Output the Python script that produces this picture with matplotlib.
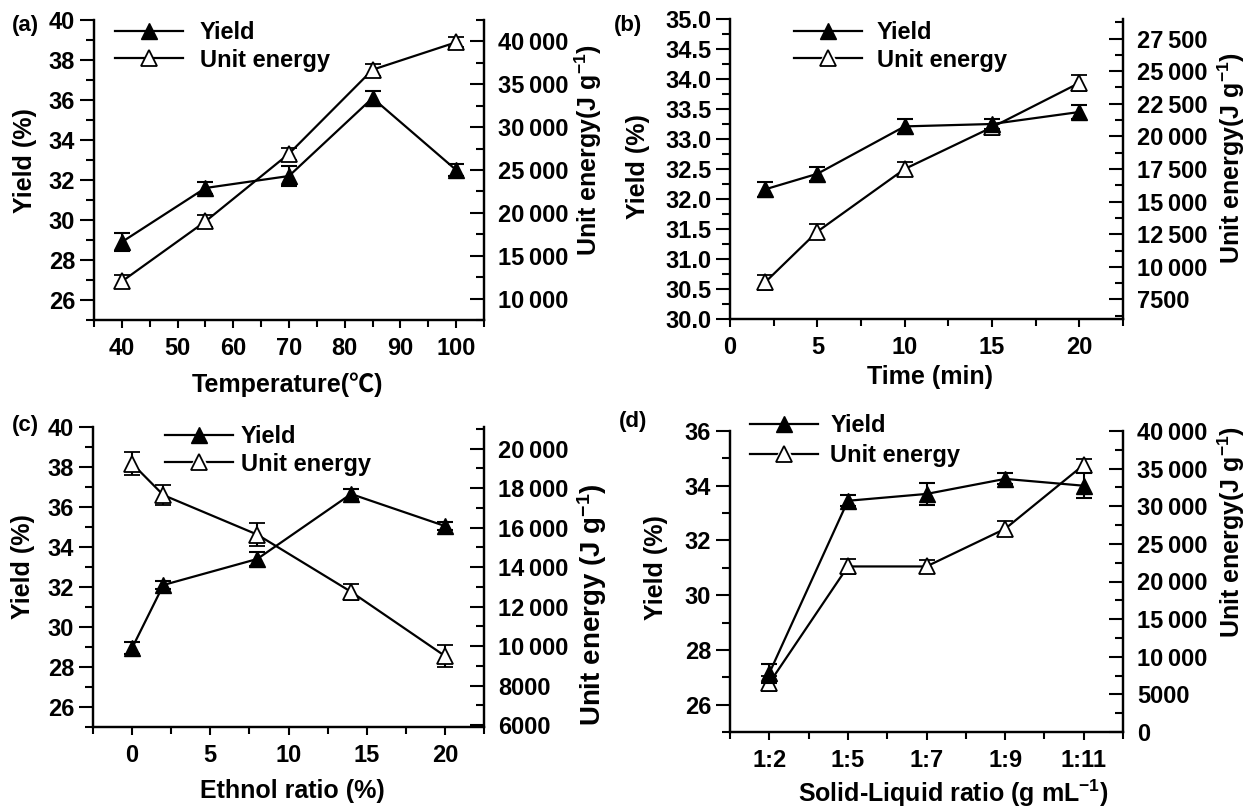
import matplotlib
matplotlib.use("Agg")
import matplotlib.pyplot as plt
from matplotlib.ticker import MultipleLocator, FixedLocator, FuncFormatter, FormatStrFormatter
from matplotlib.lines import Line2D
from matplotlib.legend_handler import HandlerTuple

# ---------------- data ----------------
temp_x = [40, 55, 70, 85, 100]
temp_yield = [28.9, 31.6, 32.2, 36.1, 32.5]
temp_yield_err = [0.45, 0.3, 0.5, 0.35, 0.3]
temp_energy = [12000, 19000, 26900, 36700, 39900]
temp_energy_err = [800, 700, 700, 700, 600]

time_x = [2, 5, 10, 15, 20]
time_yield = [32.16, 32.42, 33.21, 33.25, 33.45]
time_yield_err = [0.12, 0.12, 0.12, 0.08, 0.12]
time_energy = [8800, 12700, 17500, 20700, 24100]
time_energy_err = [600, 600, 500, 600, 600]

eth_x = [0, 2, 8, 14, 20]
eth_yield = [28.95, 32.1, 33.4, 36.65, 35.05]
eth_yield_err = [0.3, 0.2, 0.35, 0.25, 0.2]
eth_energy = [19250, 17650, 15650, 12750, 9500]
eth_energy_err = [600, 500, 600, 400, 550]

sl_cats = ['1:2', '1:5', '1:7', '1:9', '1:11']
sl_yield = [27.15, 33.45, 33.7, 34.25, 34.0]
sl_yield_err = [0.35, 0.2, 0.4, 0.2, 0.45]
sl_energy = [6500, 22000, 22000, 27000, 35500]
sl_energy_err = [1000, 1000, 900, 1000, 800]

# ---------------- style ----------------
plt.rcParams['font.family'] = ['Liberation Sans', 'Noto Sans CJK SC', 'DejaVu Sans']
plt.rcParams['font.weight'] = 'bold'
plt.rcParams['axes.labelweight'] = 'bold'
plt.rcParams['mathtext.fontset'] = 'custom'
plt.rcParams['mathtext.rm'] = 'Liberation Sans:bold'
plt.rcParams['mathtext.bf'] = 'Liberation Sans:bold'
plt.rcParams['mathtext.it'] = 'Liberation Sans:bold'
plt.rcParams['mathtext.default'] = 'rm'

TFS = 17     # tick labels
LFS = 18     # axis labels
GFS = 17     # legend
W, H = 1250, 809
fig = plt.figure(figsize=(W / 100, H / 100), dpi=100)


def rect(l, t, r, b):
    return [l / W, 1 - b / H, (r - l) / W, (b - t) / H]


def energy_fmt(v, pos):
    v = int(round(v))
    if v >= 10000:
        return f"{v:,}".replace(',', '\u2009')
    return str(v)


def style_axes(ax, ax2):
    for sp in ['left', 'bottom', 'right']:
        ax.spines[sp].set_linewidth(1.6)
        ax2.spines[sp].set_linewidth(1.6)
    ax.spines['top'].set_visible(False)
    ax2.spines['top'].set_visible(False)
    ax.tick_params(axis='y', which='major', direction='out', length=10, width=1.5, labelsize=TFS)
    ax.tick_params(axis='y', which='minor', direction='out', length=5.5, width=1.5)
    ax.tick_params(axis='x', which='major', direction='out', length=6, width=1.5, labelsize=TFS, pad=6)
    ax.tick_params(axis='x', which='minor', direction='out', length=5, width=1.5)
    ax2.tick_params(axis='y', which='major', direction='in', length=10, width=1.5, labelsize=TFS, pad=10)
    ax2.tick_params(axis='y', which='minor', direction='in', length=5.5, width=1.5)
    ax2.yaxis.set_major_formatter(FuncFormatter(energy_fmt))


def set_labels(xl, yl, y2l, xc, yc, y2c, y2fs=LFS):
    # centres given in pixels
    fig.text(xc[0] / W, 1 - xc[1] / H, xl, ha='center', va='center', fontsize=LFS, fontweight='bold')
    fig.text(yc[0] / W, 1 - yc[1] / H, yl, ha='center', va='center', rotation=90, fontsize=LFS, fontweight='bold')
    fig.text(y2c[0] / W, 1 - y2c[1] / H, y2l, ha='center', va='center', rotation=90, fontsize=y2fs, fontweight='bold')


def plot_pair(ax, ax2, x, y, ye, e, ee):
    ax2.errorbar(x, e, yerr=ee, fmt='-^', color='black', mfc='white', mec='black', mew=1.3,
                 ms=11, lw=1.6, elinewidth=1.5, capsize=6, capthick=1.5, zorder=3)
    ax.errorbar(x, y, yerr=ye, fmt='-^', color='black', mfc='black', mec='black',
                ms=11, lw=1.6, elinewidth=1.5, capsize=6, capthick=1.5, zorder=3)
    ax.set_zorder(ax2.get_zorder() + 1)
    ax.patch.set_visible(False)


def legend(ax, pos, gapped, textpad, spacing):
    h1 = Line2D([], [], color='black', lw=1.6, marker='^', ms=11, mfc='black')
    if gapped:
        hl = Line2D([], [], color='black', lw=1.6)
        hw = Line2D([], [], ls='none', marker='^', ms=17, mfc='white', mec='white')
        hm = Line2D([], [], ls='none', marker='^', ms=11, mfc='white', mec='black', mew=1.3)
        h2 = (hl, hw, hm)
    else:
        h2 = Line2D([], [], color='black', lw=1.6, marker='^', ms=11, mfc='white', mec='black', mew=1.3)
    leg = ax.legend([h1, h2], ['Yield', 'Unit energy'], loc='upper left',
                    bbox_to_anchor=(pos[0] / W, 1 - pos[1] / H), bbox_transform=fig.transFigure,
                    frameon=False, fontsize=GFS, handlelength=2.9, handletextpad=textpad,
                    labelspacing=spacing, borderpad=0, borderaxespad=0,
                    handler_map={tuple: HandlerTuple(ndivide=1)})
    return leg


def panel_label(txt, cx, cy):
    fig.text(cx / W, 1 - cy / H, txt, ha='center', va='center', fontsize=16, fontweight='bold')


# ---------------- (a) ----------------
axa = fig.add_axes(rect(94, 20, 484, 320))
axa2 = axa.twinx()
plot_pair(axa, axa2, temp_x, temp_yield, temp_yield_err, temp_energy, temp_energy_err)
axa.set_xlim(35, 105)
axa.set_ylim(25, 40)
axa2.set_ylim(7500, 42500)
axa.xaxis.set_major_locator(MultipleLocator(10))
axa.xaxis.set_minor_locator(MultipleLocator(5))
axa.yaxis.set_major_locator(MultipleLocator(2))
axa.yaxis.set_minor_locator(MultipleLocator(1))
axa2.yaxis.set_major_locator(MultipleLocator(5000))
axa2.yaxis.set_minor_locator(MultipleLocator(2500))
style_axes(axa, axa2)
set_labels('Temperature(\u2103)', 'Yield (%)', r'Unit energy(J g$^{-1}$)',
           (287, 385), (25, 161), (588, 150))
legend(axa, (115, 21), False, 0.7, 0.2)
panel_label('(a)', 25, 26)

# ---------------- (b) ----------------
axb = fig.add_axes(rect(730, 19, 1123, 319))
axb2 = axb.twinx()
plot_pair(axb, axb2, time_x, time_yield, time_yield_err, time_energy, time_energy_err)
axb.set_xlim(0, 22.5)
axb.set_ylim(30, 35)
axb2.set_ylim(6000, 29000)
axb.xaxis.set_major_locator(MultipleLocator(5))
axb.xaxis.set_minor_locator(MultipleLocator(2.5))
axb.yaxis.set_major_locator(MultipleLocator(0.5))
axb.yaxis.set_minor_locator(MultipleLocator(0.25))
axb.yaxis.set_major_formatter(FormatStrFormatter('%.1f'))
axb2.yaxis.set_major_locator(MultipleLocator(2500))
axb2.yaxis.set_minor_locator(MultipleLocator(1250))
style_axes(axb, axb2)
set_labels('Time (min)', 'Yield (%)', r'Unit energy(J g$^{-1}$)',
           (930, 377), (638, 167), (1231, 158))
legend(axb, (794, 21), True, 0.6, 0.2)
panel_label('(b)', 628, 26)

# ---------------- (c) ----------------
axc = fig.add_axes(rect(93, 427, 484, 727))
axc2 = axc.twinx()
plot_pair(axc, axc2, eth_x, eth_yield, eth_yield_err, eth_energy, eth_energy_err)
axc.set_xlim(-2.5, 22.5)
axc.set_ylim(25, 40)
axc2.set_ylim(5900, 21100)
axc.xaxis.set_major_locator(MultipleLocator(5))
axc.xaxis.set_minor_locator(MultipleLocator(2.5))
axc.yaxis.set_major_locator(MultipleLocator(2))
axc.yaxis.set_minor_locator(MultipleLocator(1))
axc2.yaxis.set_major_locator(MultipleLocator(2000))
axc2.yaxis.set_minor_locator(MultipleLocator(1000))
style_axes(axc, axc2)
set_labels('Ethnol ratio (%)', 'Yield (%)', r'Unit energy (J g$^{-1}$)',
           (292, 791), (23, 567), (592, 605), y2fs=20)
legend(axc, (165, 425), True, 0.3, 0.2)
panel_label('(c)', 25, 426)

# ---------------- (d) ----------------
axd = fig.add_axes(rect(730, 431, 1123, 732))
axd2 = axd.twinx()
sl_x = list(range(len(sl_cats)))
plot_pair(axd, axd2, sl_x, sl_yield, sl_yield_err, sl_energy, sl_energy_err)
axd.set_xlim(-0.5, len(sl_cats) - 0.5)
axd.set_ylim(25, 36)
axd2.set_ylim(0, 40000)
axd.xaxis.set_major_locator(FixedLocator(sl_x))
axd.set_xticklabels(sl_cats)
axd.xaxis.set_minor_locator(FixedLocator([i - 0.5 for i in range(len(sl_cats) + 1)]))
axd.yaxis.set_major_locator(MultipleLocator(2))
axd.yaxis.set_minor_locator(MultipleLocator(1))
axd2.yaxis.set_major_locator(MultipleLocator(5000))
axd2.yaxis.set_minor_locator(MultipleLocator(2500))
style_axes(axd, axd2)
set_labels(r'Solid-Liquid ratio (g mL$^{-1}$)', 'Yield (%)', r'Unit energy(J g$^{-1}$)',
           (953, 793), (656, 568), (1231, 532))
legend(axd, (750, 414), True, 0.5, 0.3)
panel_label('(d)', 633, 422)

fig.savefig('out.png', dpi=100)
